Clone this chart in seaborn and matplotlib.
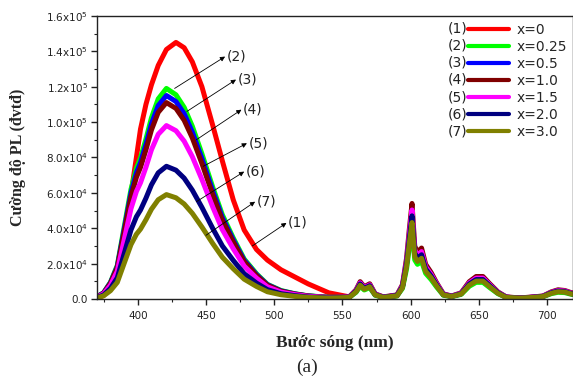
import matplotlib
matplotlib.use("Agg")
import matplotlib.pyplot as plt
from matplotlib.ticker import MultipleLocator, FixedLocator, FixedFormatter
import seaborn as sns
import pandas as pd

# buoc song (nm)
wl = [370, 375, 380, 385, 390, 395, 399, 402, 406, 410,
      415, 421, 428, 434, 440, 447, 455, 462, 470, 478,
      487, 495, 505, 515, 525, 540, 555, 560, 563, 566,
      570, 574, 580, 590, 594, 597, 599, 601, 603, 605,
      608, 611, 615, 619, 624, 630, 637, 643, 648, 653,
      658, 664, 670, 680, 690, 697, 703, 708, 713, 718, 720]

# cuong do PL, don vi 1e4
y1 = [0.05, 0.2, 0.7, 1.5, 3.4, 5.9, 8.0, 9.6, 11.0, 12.1,
      13.2, 14.1, 14.5, 14.2, 13.4, 12.0, 9.8, 7.8, 5.6, 3.9,
      2.8, 2.2, 1.65, 1.25, 0.85, 0.35, 0.12, 0.45, 0.85, 0.6,
      0.75, 0.25, 0.1, 0.2, 0.7, 2.0, 3.4, 4.7, 2.6, 2.3,
      2.5, 1.7, 1.3, 0.8, 0.25, 0.15, 0.3, 0.85, 1.1, 1.1,
      0.75, 0.35, 0.1, 0.05, 0.1, 0.15, 0.35, 0.45, 0.42, 0.3, 0.3]
y2 = [0.12, 0.36, 0.95, 1.9, 4.05, 6.19, 7.38, 7.97, 9.04, 10.23,
      11.31, 11.9, 11.54, 10.83, 9.76, 8.21, 6.31, 4.76, 3.45, 2.26,
      1.43, 0.83, 0.48, 0.3, 0.18, 0.1, 0.09, 0.38, 0.72, 0.51,
      0.64, 0.21, 0.09, 0.17, 0.6, 1.7, 2.89, 4.0, 2.21, 1.96,
      2.13, 1.45, 1.1, 0.68, 0.21, 0.13, 0.26, 0.72, 0.94, 0.94,
      0.64, 0.3, 0.09, 0.04, 0.09, 0.13, 0.3, 0.38, 0.36, 0.26, 0.26]
y3 = [0.12, 0.35, 0.92, 1.84, 3.91, 5.98, 7.13, 7.71, 8.74, 9.89,
      10.93, 11.5, 11.16, 10.47, 9.43, 7.94, 6.1, 4.6, 3.34, 2.19,
      1.38, 0.81, 0.46, 0.29, 0.17, 0.09, 0.1, 0.45, 0.85, 0.6,
      0.75, 0.25, 0.1, 0.2, 0.7, 2.0, 3.4, 4.7, 2.6, 2.3,
      2.5, 1.7, 1.3, 0.8, 0.25, 0.15, 0.3, 0.85, 1.1, 1.1,
      0.75, 0.35, 0.1, 0.05, 0.1, 0.15, 0.35, 0.45, 0.42, 0.3, 0.3]
y4 = [0.11, 0.33, 0.89, 1.78, 3.77, 5.77, 6.88, 7.44, 8.44, 9.55,
      10.55, 11.1, 10.77, 10.1, 9.1, 7.66, 5.88, 4.44, 3.22, 2.11,
      1.33, 0.78, 0.44, 0.28, 0.17, 0.09, 0.12, 0.52, 0.98, 0.69,
      0.86, 0.29, 0.12, 0.23, 0.81, 2.3, 3.91, 5.4, 2.99, 2.65,
      2.88, 1.96, 1.5, 0.92, 0.29, 0.17, 0.35, 0.98, 1.27, 1.27,
      0.86, 0.4, 0.12, 0.06, 0.12, 0.17, 0.4, 0.52, 0.48, 0.35, 0.35]
y5 = [0.1, 0.29, 0.78, 1.57, 3.33, 5.1, 6.08, 6.57, 7.45, 8.43,
      9.31, 9.8, 9.51, 8.92, 8.04, 6.76, 5.19, 3.92, 2.84, 1.86,
      1.18, 0.69, 0.39, 0.25, 0.15, 0.08, 0.11, 0.48, 0.91, 0.64,
      0.8, 0.27, 0.11, 0.21, 0.75, 2.14, 3.64, 5.03, 2.78, 2.46,
      2.68, 1.82, 1.39, 0.86, 0.27, 0.16, 0.32, 0.91, 1.18, 1.18,
      0.8, 0.37, 0.11, 0.05, 0.11, 0.16, 0.37, 0.48, 0.45, 0.32, 0.32]
y6 = [0.08, 0.23, 0.6, 1.2, 2.55, 3.9, 4.65, 5.03, 5.7, 6.45,
      7.13, 7.5, 7.28, 6.83, 6.15, 5.18, 3.98, 3.0, 2.18, 1.43,
      0.9, 0.53, 0.3, 0.19, 0.11, 0.06, 0.1, 0.45, 0.85, 0.6,
      0.75, 0.25, 0.1, 0.2, 0.7, 2.0, 3.4, 4.7, 2.6, 2.3,
      2.5, 1.7, 1.3, 0.8, 0.25, 0.15, 0.3, 0.85, 1.1, 1.1,
      0.75, 0.35, 0.1, 0.05, 0.1, 0.15, 0.35, 0.45, 0.42, 0.3, 0.3]
y7 = [0.06, 0.18, 0.47, 0.94, 2.01, 3.07, 3.66, 3.95, 4.48, 5.07,
      5.61, 5.9, 5.72, 5.37, 4.84, 4.07, 3.13, 2.36, 1.71, 1.12,
      0.71, 0.41, 0.24, 0.15, 0.09, 0.05, 0.09, 0.41, 0.78, 0.55,
      0.69, 0.23, 0.09, 0.18, 0.64, 1.84, 3.13, 4.32, 2.39, 2.12,
      2.3, 1.56, 1.2, 0.74, 0.23, 0.14, 0.28, 0.78, 1.01, 1.01,
      0.69, 0.32, 0.09, 0.05, 0.09, 0.14, 0.32, 0.41, 0.39, 0.28, 0.28]

series = [y1, y2, y3, y4, y5, y6, y7]
nhan = ["x=0", "x=0.25", "x=0.5", "x=1.0", "x=1.5", "x=2.0", "x=3.0"]
so = ["(1)", "(2)", "(3)", "(4)", "(5)", "(6)", "(7)"]
mau = ["#ff0000", "#00ff00", "#0000ff", "#800000", "#ff00ff", "#000080", "#808000"]

ytick_vals = [0, 2e4, 4e4, 6e4, 8e4, 1e5, 1.2e5, 1.4e5, 1.6e5]
ytick_labels = ["0.0", r"2.0x10$^4$", r"4.0x10$^4$", r"6.0x10$^4$", r"8.0x10$^4$",
                r"1.0x10$^5$", r"1.2x10$^5$", r"1.4x10$^5$", r"1.6x10$^5$"]

# mui ten chi duong cong: (so, duoi, dau)
mui_ten = [("(2)", (427, 11.9e4), (464, 13.7e4)),
           ("(3)", (436, 10.6e4), (472, 12.4e4)),
           ("(4)", (443, 9.0e4), (476, 10.7e4)),
           ("(5)", (448, 7.5e4), (480, 8.8e4)),
           ("(6)", (443, 5.5e4), (478, 7.2e4)),
           ("(7)", (450, 3.6e4), (486, 5.5e4)),
           ("(1)", (484, 3.0e4), (509, 4.3e4))]

rows = []
for lab, ys in zip(nhan, series):
    for w, v in zip(wl, ys):
        rows.append({"wl": w, "I": v * 1e4, "mau": lab})
df = pd.DataFrame(rows)

sns.set_style("ticks")
plt.rcParams["font.family"] = ["DejaVu Sans"]

fig = plt.figure(figsize=(5.73, 3.78), dpi=100)
ax = fig.add_axes([0.169, 0.209, 0.831, 0.749])

sns.lineplot(data=df, x="wl", y="I", hue="mau", palette=mau, hue_order=nhan,
             linewidth=3.6, sort=False, ax=ax, legend=False)
for l in ax.get_lines():
    l.set_solid_joinstyle("round")
    l.set_solid_capstyle("round")

ax.set_xlim(370, 719)
ax.set_ylim(0, 1.6e5)
ax.xaxis.set_major_locator(MultipleLocator(50))
ax.xaxis.set_minor_locator(MultipleLocator(25))
ax.yaxis.set_major_locator(FixedLocator(ytick_vals))
ax.yaxis.set_major_formatter(FixedFormatter(ytick_labels))
ax.yaxis.set_minor_locator(MultipleLocator(1e4))
ax.tick_params(which="major", length=4, width=1, labelsize=7.5, colors="#222222", pad=2.5)
ax.tick_params(axis="x", which="major", pad=5)
ax.tick_params(which="minor", length=2.5, width=0.8, colors="#222222")
for s in ax.spines.values():
    s.set_linewidth(1.0)
    s.set_color("#222222")

ax.set_xlabel("Bước sóng (nm)", family="Liberation Serif", fontweight="bold",
              fontsize=12.5, labelpad=10)
ax.set_ylabel("Cường độ PL (đvtđ)", family="Liberation Serif", fontweight="bold",
              fontsize=11.5, labelpad=14)
fig.text(0.536, 0.027, "(a)", family="Liberation Serif", fontsize=14, ha="center",
         va="center")

for txt, duoi, dau in mui_ten:
    ax.annotate("", xy=dau, xytext=duoi,
                arrowprops=dict(arrowstyle="-|>", lw=0.6, color="black",
                                mutation_scale=7, shrinkA=0, shrinkB=0))
    ax.text(dau[0] + 1, dau[1], txt, fontsize=10, color="#222222",
            ha="left", va="center")

handles = ax.get_lines()[:7]
leg = ax.legend(handles, nhan, loc="upper left", bbox_to_anchor=(0.779, 0.976),
                frameon=False, fontsize=10, handlelength=3.0, handletextpad=0.5,
                labelspacing=0.22, borderpad=0, borderaxespad=0)
for l in leg.get_lines():
    l.set_linewidth(3)
fig.canvas.draw()
inv = fig.transFigure.inverted()
for l, txt in zip(leg.get_lines(), so):
    bb = l.get_window_extent(fig.canvas.get_renderer())
    x0, yc = inv.transform((bb.x0, (bb.y0 + bb.y1) / 2))
    fig.text(x0, yc, txt, fontsize=10, color="#222222", ha="right", va="center")

fig.savefig("out.png", dpi=100)
